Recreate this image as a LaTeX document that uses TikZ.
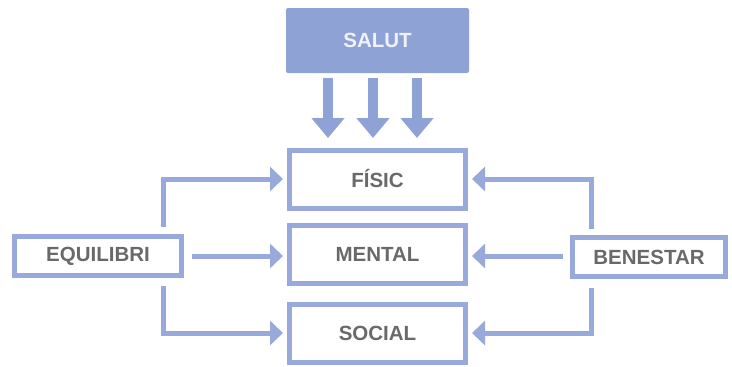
\documentclass[tikz,border=0pt]{standalone}
\usepackage{fontspec}
\setmainfont{Liberation Sans}
\usetikzlibrary{arrows.meta}
\definecolor{boxline}{RGB}{152,170,219}
\definecolor{salutfill}{RGB}{143,162,214}
\definecolor{txtgrey}{RGB}{105,105,105}
\tikzset{
  box/.style={draw=boxline, line width=5pt, fill=white, inner sep=0pt,
    minimum width=176pt, minimum height=58pt, text=txtgrey,
    font=\fontsize{20.5}{24}\selectfont\bfseries},
  sidebox/.style={box, minimum height=39pt},
  conn/.style={draw=boxline, line width=5pt,
    -{Triangle[length=13pt,width=24pt]}, shorten >=4pt},
  bigarrow/.style={draw=salutfill, line width=10pt,
    -{Triangle[length=20pt,width=32pt]}}
}
\begin{document}
\begin{tikzpicture}[x=1pt,y=-1pt]
\useasboundingbox (0,0) rectangle (732,367);
\node[fill=salutfill, rounded corners=2pt, minimum width=183pt, minimum height=65pt,
  inner sep=0pt, text={rgb,255:red,240;green,242;blue,250},
  font=\fontsize{20.5}{24}\selectfont\bfseries] (salut) at (377.5,40.5) {SALUT};
\node[box] (fis) at (377.5,179) {FÍSIC};
\node[box] (men) at (377.5,254) {MENTAL};
\node[box] (soc) at (377.5,333) {SOCIAL};
\node[sidebox, minimum width=167pt] (equ) at (98,256) {EQUILIBRI};
\node[sidebox, minimum width=153pt] (ben) at (649,257) {BENESTAR};
% big arrows
\coordinate (a1) at (328,78); \coordinate (t1) at (328,138);
\coordinate (a2) at (373,78); \coordinate (t2) at (373,138);
\coordinate (a3) at (417,78); \coordinate (t3) at (417,138);
\draw[bigarrow] (a1) -- (t1);
\draw[bigarrow] (a2) -- (t2);
\draw[bigarrow] (a3) -- (t3);
% left connectors
\coordinate (lu) at (163,227);
\coordinate (ld) at (163,286);
\coordinate (lm) at (192,256);
\draw[conn] (lu) |- (fis.west);
\draw[conn] (lm) -- (lm -| men.west);
\draw[conn] (ld) |- (soc.west);
% right connectors
\coordinate (ru) at (591,229);
\coordinate (rd) at (591,288);
\coordinate (rm) at (563,256);
\draw[conn] (ru) |- (fis.east);
\draw[conn] (rm) -- (rm -| men.east);
\draw[conn] (rd) |- (soc.east);
\end{tikzpicture}
\end{document}
